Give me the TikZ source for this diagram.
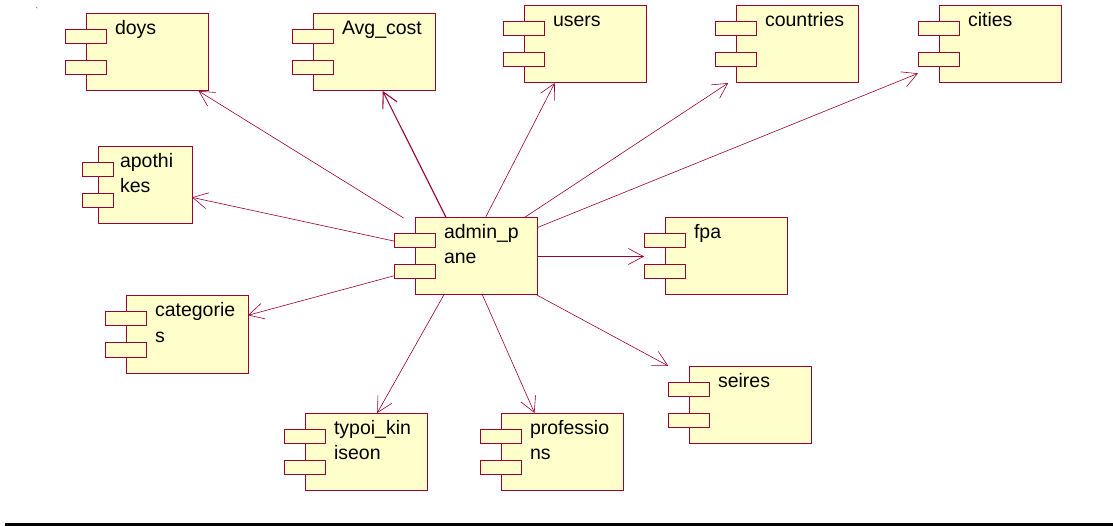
\documentclass[tikz,border=0pt]{standalone}
\usepackage{fontspec}
\setmainfont{Liberation Sans}
\usetikzlibrary{arrows.meta, calc, backgrounds}
\definecolor{roseLine}{HTML}{990033}
\definecolor{roseFill}{HTML}{FFFFCC}

\begin{document}
\begin{tikzpicture}[x=1pt, y=-1pt,
  comp/.style={rectangle, anchor=north west, inner sep=0pt, outer sep=0pt,
               minimum width=143pt, minimum height=77pt, text width=143pt,
               text height=21pt, text depth=56pt, align=left,
               font=\fontsize{19.5}{25}\selectfont,
               execute at begin node={\leftskip=50pt}},
  part/.style={draw=roseLine, fill=roseFill, line width=1pt},
  dep/.style={-{Straight Barb[length=15pt, width=16pt]}, draw=roseLine, line width=0.6pt}
]
  \useasboundingbox (0,0) rectangle (1113,526);

  \node[font=\fontsize{8}{8}\selectfont, text=roseLine] (tick) at (37,11) {\textasciigrave};

  \node[comp] (doys) at (65,14) {doys};
  \node[comp] (avgcost) at (292,14) {Avg\_cost};
  \node[comp] (users) at (503,6) {users};
  \node[comp] (countries) at (715,6) {countries};
  \node[comp] (cities) at (918,6) {cities};
  \node[comp, minimum width=110pt, text width=110pt,
        execute at begin node={\leftskip=38pt}] (apothikes) at (82,147) {apothi\\kes};
  \node[comp] (admin) at (394,218) {admin\_p\\ane};
  \node[comp] (fpa) at (644,218) {fpa};
  \node[comp] (categories) at (105,296) {categorie\\s};
  \node[comp] (seires) at (668,366) {seires};
  \node[comp] (typoi) at (284,413) {typoi\_kin\\iseon};
  \node[comp] (professions) at (480,413) {professio\\ns};

  \begin{scope}[on background layer]
    \foreach \n/\o/\w in {doys/21/41, avgcost/21/41, users/21/41, countries/21/41,
                          cities/21/41, apothikes/16/31, admin/21/41, fpa/21/41,
                          categories/21/41, seires/21/41, typoi/21/41, professions/21/41} {
      \draw[part] ($(\n.north west)+(\o,0)$) rectangle (\n.south east);
      \foreach \dy in {16,47}
        \draw[part] ($(\n.north west)+(0,\dy)$) rectangle +(\w,14);
    }
  \end{scope}

  \draw[dep] (admin) -- (doys);
  \draw[dep, line width=1.1pt] (admin) -- (avgcost);
  \draw[dep] (admin) -- (users);
  \draw[dep] (admin) -- (countries);
  \draw[dep] (admin) -- (cities);
  \draw[dep] (admin) -- (apothikes);
  \draw[dep] (admin) -- (fpa);
  \draw[dep] (admin) -- (categories);
  \draw[dep] (admin) -- (seires);
  \draw[dep] (admin) -- (typoi);
  \draw[dep] (admin) -- (professions);

  \fill (5,523) rectangle (1113,526);
\end{tikzpicture}
\end{document}
